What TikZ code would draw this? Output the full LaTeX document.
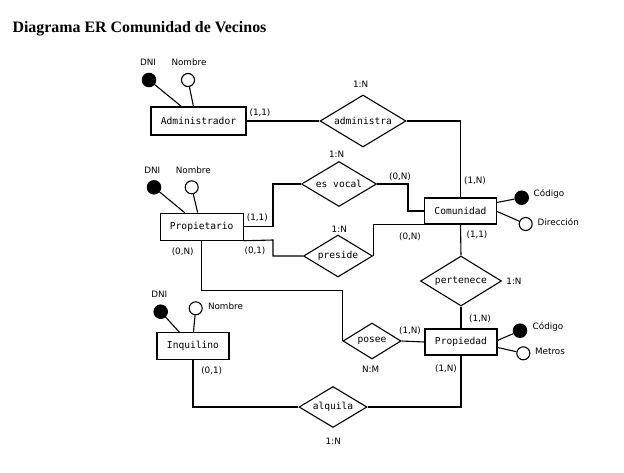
\documentclass[tikz,border=0pt]{standalone}
\usepackage{fontspec}
\setmainfont{DejaVu Sans}
\newfontfamily\titlefont{Liberation Serif}
\setmonofont{DejaVu Sans Mono}
\usetikzlibrary{shapes.geometric}
\begin{document}
\begin{tikzpicture}[x=1pt,y=-1pt,line width=1.1pt,
  ent/.style={draw,rectangle,inner sep=0pt,minimum width=#1,minimum height=27pt,
    font=\ttfamily\fontsize{9.6}{10}\selectfont},
  rel/.style n args={2}{draw,diamond,aspect=1.6,inner sep=0pt,minimum width=#1,minimum height=#2,
    font=\ttfamily\fontsize{9.6}{10}\selectfont},
  keyattr/.style={draw,circle,fill=black,minimum size=13.4pt,inner sep=0pt},
  attr/.style={draw,circle,fill=white,minimum size=13pt,inner sep=0pt},
  lbl/.style={inner sep=0pt,font=\fontsize{8.8}{10}\selectfont},
  link/.style={line width=1.1pt}]
\useasboundingbox[fill=white] (0,0) rectangle (624,472);

\node[anchor=base west,inner sep=0pt,font=\titlefont\bfseries\fontsize{15.9}{18}\selectfont] (title) at (12,32.5) {Diagrama ER Comunidad de Vecinos};

% entities
\node[ent=95pt,minimum height=28pt] (adm) at (198.5,121) {Administrador};
\node[ent=83pt] (prop) at (201.7,226.7) {Propietario};
\node[ent=72pt] (inq) at (193,346.3) {Inquilino};
\node[ent=72pt,minimum height=26pt] (com) at (460.5,211) {Comunidad};
\node[ent=72pt,minimum height=26pt] (pro) at (461,342) {Propiedad};

% relationships
\node[rel={86pt}{52pt}] (admr) at (363,121) {administra};
\node[rel={75pt}{45pt}] (voc) at (339,184) {es vocal};
\node[rel={69pt}{42pt}] (pres) at (338,256) {preside};
\node[rel={81pt}{50pt}] (pert) at (461,281) {pertenece};
\node[rel={58pt}{36pt}] (pos) at (372,341) {posee};
\node[rel={68pt}{41pt}] (alq) at (333,407) {alquila};

% connectors
\draw[link] (adm.east) -- (admr.west);
\draw[link] (admr.east) -| (com.north);
\draw[link] (prop.east) -- (273,226.7) |- (voc.west);
\draw[link] (voc.east) -- (408,184) |- (com.west);
\draw[link] (prop.south east) -- (273,240) |- (pres.west);
\draw[link] (pres.east) |- (com.south west);
\draw[link] (prop.south) -- (201.7,290.7) -| (pos.west);
\draw[link] (pos.east) -- (pro.west);
\draw[link] (com.south) -- (pert.north);
\draw[link] (pert.south) -- (pro.north);
\draw[link] (inq.south) |- (alq.west);
\draw[link] (pro.south) |- (alq.east);

% attributes
\node[keyattr] (admdni) at (149,80) {};
\node[attr] (admnom) at (188,80) {};
\draw[link] (admdni) -- ([xshift=31pt]adm.north west);
\draw[link] (admnom) -- ([xshift=43pt]adm.north west);
\node[lbl] (admdnil) at (148,62) {DNI};
\node[lbl] (admnoml) at (189,62) {Nombre};

\node[keyattr] (propdni) at (154,187.3) {};
\node[attr] (propnom) at (191.7,187.3) {};
\draw[link] (propdni) -- ([xshift=25pt]prop.north west);
\draw[link] (propnom) -- ([xshift=38pt]prop.north west);
\node[lbl] (propdnil) at (152.3,170) {DNI};
\node[lbl] (propnoml) at (193.3,170) {Nombre};

\node[keyattr] (inqdni) at (160.7,311.7) {};
\node[attr] (inqnom) at (195.7,308.3) {};
\draw[link] (inqdni) -- ([xshift=23pt]inq.north west);
\draw[link] (inqnom) -- ([xshift=37pt]inq.north west);
\node[lbl] (inqdnil) at (159.3,294) {DNI};
\node[lbl] (inqnoml) at (225.5,306) {Nombre};

\node[keyattr] (comcod) at (521.7,197.7) {};
\node[attr] (comdir) at (525.7,224) {};
\draw[link] (comcod) -- ([yshift=-5pt]com.north east);
\draw[link] (comdir) -- ([yshift=-14pt]com.north east);
\node[lbl] (comcodl) at (549,194) {Código};
\node[lbl] (comdirl) at (558.3,222) {Dirección};

\node[keyattr] (procod) at (520,330.7) {};
\node[attr] (promet) at (523.3,353.3) {};
\draw[link] (procod) -- ([yshift=-12pt]pro.north east);
\draw[link] (promet) -- ([yshift=-19pt]pro.north east);
\node[lbl] (procodl) at (548,326.7) {Código};
\node[lbl] (prometl) at (550,351) {Metros};

% cardinalities
\node[lbl] (c1) at (260,113) {(1,1)};
\node[lbl] (c2) at (360.7,84) {1:N};
\node[lbl] (c3) at (475,180.7) {(1,N)};
\node[lbl] (c4) at (336.7,154) {1:N};
\node[lbl] (c5) at (400,176.7) {(0,N)};
\node[lbl] (c6) at (257.3,217.7) {(1,1)};
\node[lbl] (c7) at (255,251) {(0,1)};
\node[lbl] (c8) at (339.3,229) {1:N};
\node[lbl] (c9) at (410,236.7) {(0,N)};
\node[lbl] (c10) at (477,234.3) {(1,1)};
\node[lbl] (c11) at (514,281.7) {1:N};
\node[lbl] (c12) at (182.7,251.7) {(0,N)};
\node[lbl] (c13) at (480,318.3) {(1,N)};
\node[lbl] (c14) at (410,331) {(1,N)};
\node[lbl] (c15) at (370.7,369.3) {N:M};
\node[lbl] (c16) at (446,368.3) {(1,N)};
\node[lbl] (c17) at (211.7,371) {(0,1)};
\node[lbl] (c18) at (333.3,441.7) {1:N};
\end{tikzpicture}
\end{document}
